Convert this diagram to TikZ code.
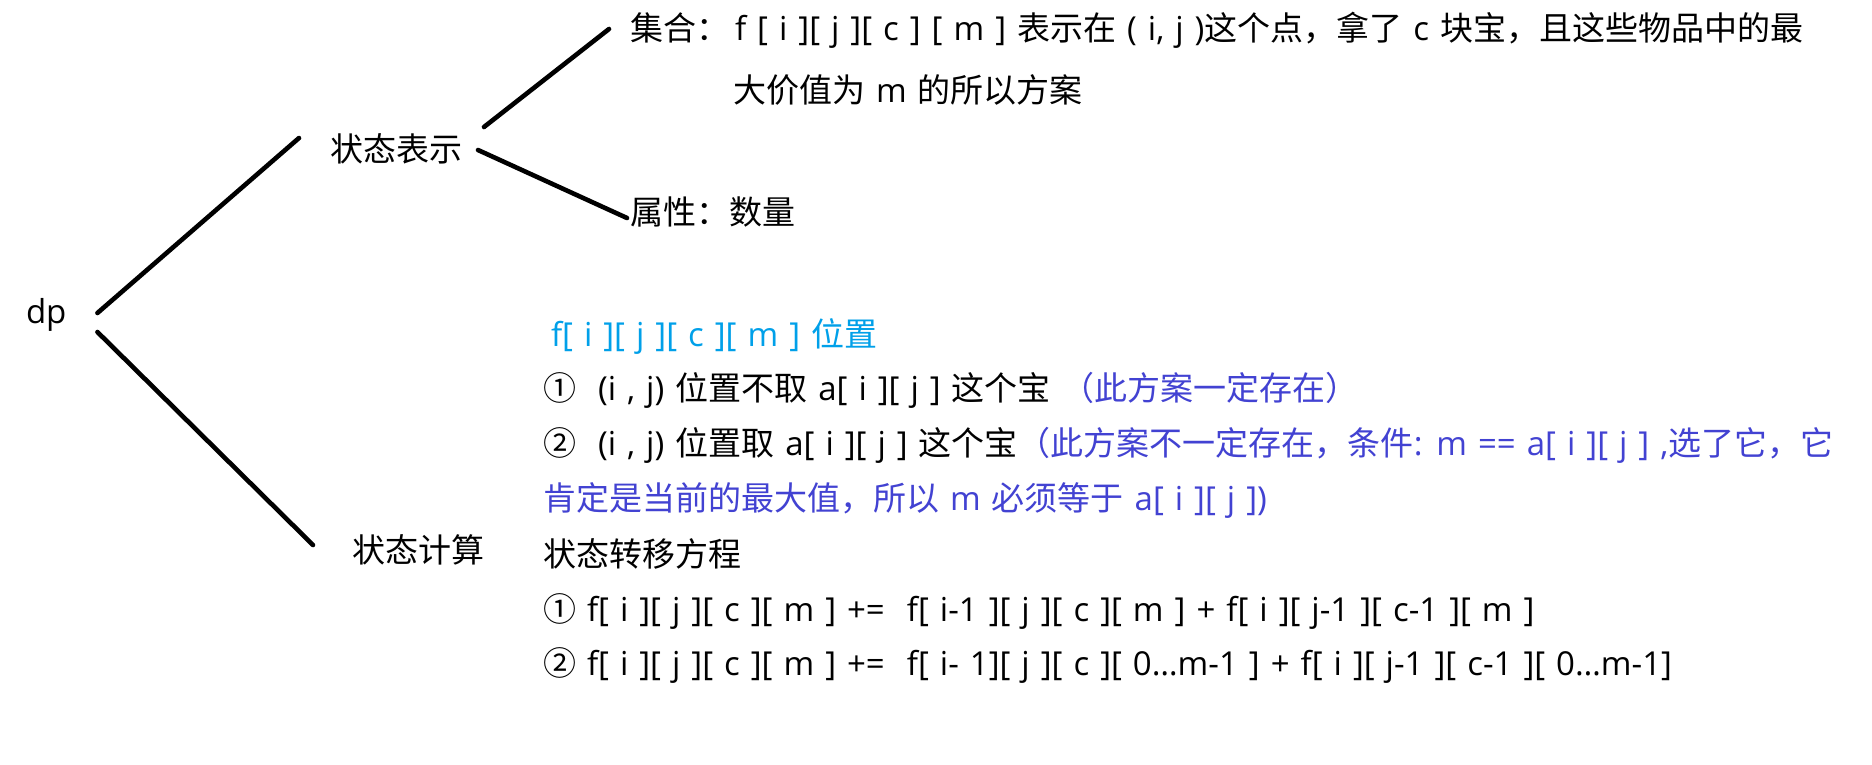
\documentclass[tikz,border=0pt]{standalone}
\usepackage{fontspec}
\setmainfont{Open Sans}
\newfontfamily\cjkfont{Noto Sans CJK SC}
\newfontfamily\latinfont{Open Sans}
\XeTeXinterchartokenstate=1
\newXeTeXintercharclass\cjkclass
\newcount\cjkcnt
\def\cjkrange#1#2{\cjkcnt=#1\relax
  \loop\XeTeXcharclass\cjkcnt=\cjkclass\relax
  \ifnum\cjkcnt<#2\relax\advance\cjkcnt by 1\relax\repeat}
\cjkrange{"4E00}{"9FFF}
\cjkrange{"FF00}{"FF60}
\cjkrange{"3000}{"303F}
\cjkrange{"2460}{"24FF}
\XeTeXinterchartoks 0 \cjkclass = {\cjkfont}
\XeTeXinterchartoks 4095 \cjkclass = {\cjkfont}
\XeTeXinterchartoks \cjkclass 0 = {\latinfont}
\XeTeXinterchartoks \cjkclass 4095 = {\latinfont}
\definecolor{cyantext}{RGB}{0,160,233}
\definecolor{bluetext}{RGB}{66,66,210}
\newskip\lblspace
\lblspace=11pt\relax
\newcommand\lblfont{\fontsize{33}{40}\selectfont\spaceskip\lblspace}
\begin{document}
\begin{tikzpicture}[x=1pt,y=-1pt,
  lbl/.style={anchor=base west,inner sep=0pt,outer sep=0pt,font=\lblfont},
  branch/.style={line width=4.6pt,line cap=round}]
\fill[white] (0,0) rectangle (1872,764);
\useasboundingbox (0,0) rectangle (1872,764);
% left nodes
\node[lbl] (dp) at (26,323) {dp};
\node[lbl] (rep) at (330,161) {状态表示};
\node[lbl] (calc) at (352,562) {状态计算};
\node[lbl] (set) at (630,40) {集合：};
\node[lbl] (setA) at (735,40) {f [ i ][ j ][ c ] [ m ] 表示在 ( i, j )这个点，拿了 c 块宝，且这些物品中的最};
\node[lbl] (setB) at (733,102) {大价值为 m 的所以方案};
\node[lbl] (attr) at (630,224) {属性：数量};
% state computation block
\node[lbl,text=cyantext] (pos) at (551,346) {f[ i ][ j ][ c ][ m ] 位置};
\node[lbl] (c1) at (543,400) {① \ (i , j) 位置不取 a[ i ][ j ] 这个宝 \textcolor{bluetext}{（此方案一定存在）}};
\node[lbl] (c2) at (543,455) {② \ (i , j) 位置取 a[ i ][ j ] 这个宝\textcolor{bluetext}{（此方案不一定存在，条件: m == a[ i ][ j ] ,选了它，它}};
\node[lbl,text=bluetext] (c2b) at (543,510) {肯定是当前的最大值，所以 m 必须等于 a[ i ][ j ])};
\node[lbl] (eqh) at (543,566) {状态转移方程};
\node[lbl] (eq1) at (543,621) {① f[ i ][ j ][ c ][ m ] += \ f[ i-1 ][ j ][ c ][ m ] + f[ i ][ j-1 ][ c-1 ][ m ]};
\node[lbl] (eq2) at (543,675) {② f[ i ][ j ][ c ][ m ] += \ f[ i- 1][ j ][ c ][ 0…m-1 ] + f[ i ][ j-1 ][ c-1 ][ 0…m-1]};
% connectors
\draw[branch] ([shift={(31,-10)}]dp.base east) -- ([shift={(-31,-23)}]rep.base west);
\draw[branch] ([shift={(31,9)}]dp.base east) -- ([shift={(-39,-17)}]calc.base west);
\draw[branch] ([shift={(22,-34)}]rep.base east) -- ([shift={(-21,-11)}]set.base west);
\draw[branch] ([shift={(16,-11)}]rep.base east) -- ([shift={(-3,-6)}]attr.base west);
\end{tikzpicture}
\end{document}
